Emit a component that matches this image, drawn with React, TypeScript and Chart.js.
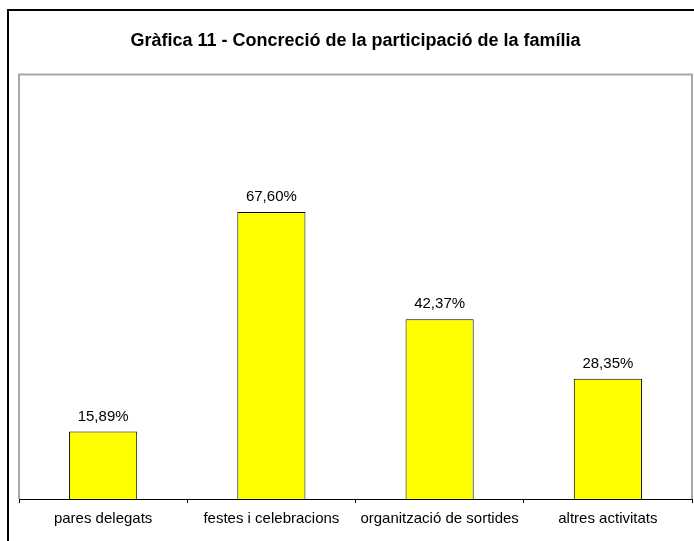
import React, { useEffect, useRef } from "react";
import { Chart, registerables } from "chart.js";

Chart.register(...registerables);

const TITLE = "Gràfica 11 - Concreció de la participació de la família";
const categories = ["pares delegats", "festes i celebracions", "organització de sortides", "altres activitats"];
const values = [15.89, 67.6, 42.37, 28.35];
const valueLabels = ["15,89%", "67,60%", "42,37%", "28,35%"];

const FONT = "'Liberation Sans', Arial, sans-serif";

const framePlugin = {
  id: "frame",
  beforeDraw(chart: any) {
    const ctx = chart.ctx;
    ctx.save();
    ctx.fillStyle = "#ffffff";
    ctx.fillRect(0, 0, chart.width, chart.height);
    ctx.strokeStyle = "#000000";
    ctx.lineWidth = 2;
    ctx.strokeRect(8, 10, 800, 800);
    const a = chart.chartArea;
    ctx.strokeStyle = "#a8a8a8";
    ctx.lineWidth = 2;
    ctx.beginPath();
    ctx.moveTo(a.left, a.bottom);
    ctx.lineTo(a.left, a.top);
    ctx.lineTo(a.right, a.top);
    ctx.lineTo(a.right, a.bottom);
    ctx.stroke();
    ctx.restore();
  },
  afterDatasetsDraw(chart: any) {
    const ctx = chart.ctx;
    const meta = chart.getDatasetMeta(0);
    ctx.save();
    ctx.fillStyle = "#000000";
    ctx.font = `15px ${FONT}`;
    ctx.textAlign = "center";
    ctx.textBaseline = "alphabetic";
    meta.data.forEach((el: any, i: number) => {
      ctx.fillText(valueLabels[i], el.x, el.y - 11);
    });
    ctx.restore();
  },
};

export default function App() {
  const ref = useRef<HTMLCanvasElement>(null);
  useEffect(() => {
    if (!ref.current) return;
    const chart = new Chart(ref.current, {
      type: "bar",
      data: {
        labels: categories,
        datasets: [
          {
            data: values,
            backgroundColor: "#ffff00",
            borderColor: "#000000",
            borderWidth: 1,
            barPercentage: 0.81,
            categoryPercentage: 0.5,
          },
        ],
      },
      options: {
        animation: false,
        responsive: true,
        maintainAspectRatio: false,
        layout: { padding: { left: 19, right: 2, top: 0, bottom: 6 } },
        plugins: {
          legend: { display: false },
          tooltip: { enabled: false },
          title: {
            display: true,
            text: TITLE,
            color: "#000000",
            font: { family: FONT, size: 18, weight: "bold" },
            padding: { top: 30, bottom: 23 },
          },
        },
        scales: {
          x: {
            offset: true,
            grid: {
              display: true,
              drawOnChartArea: false,
              drawTicks: true,
              tickLength: 4,
              color: "#000000",
              offset: true,
            },
            border: { display: true, color: "#000000", width: 1 },
            ticks: {
              color: "#000000",
              font: { family: FONT, size: 15 },
              padding: 7,
              maxRotation: 0,
              autoSkip: false,
            },
          },
          y: {
            display: false,
            min: 0,
            max: 100,
          },
        },
      },
      plugins: [framePlugin],
    });
    return () => chart.destroy();
  }, []);
  return (
    <div style={{ position: "fixed", left: 0, top: 0, width: 694, height: 541, background: "#fff" }}>
      <canvas ref={ref} />
    </div>
  );
}
